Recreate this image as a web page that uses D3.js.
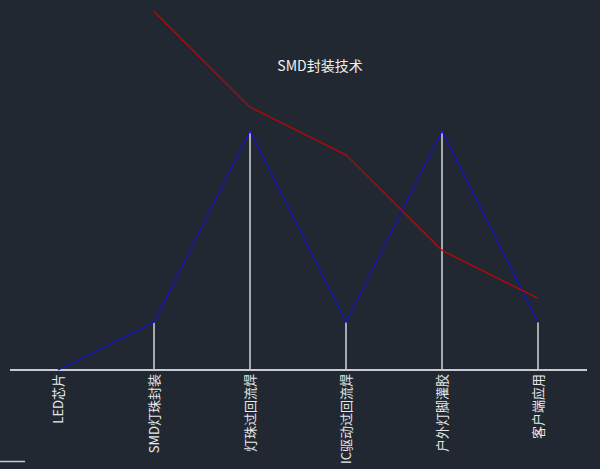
<!DOCTYPE html>
<html>
<head>
<meta charset="utf-8">
<script src="https://cdn.jsdelivr.net/npm/d3@7"></script>
<style>
  html, body { margin: 0; padding: 0; background: #222831; }
  svg { display: block; }
</style>
</head>
<body>
<svg id="chart" width="600" height="469"></svg>
<script>
var categories = ["LED芯片", "SMD灯珠封装", "灯珠过回流焊", "IC驱动过回流焊", "户外灯脚灌胶", "客户端应用"];
var blueValues = [0, 1, 5, 1, 5, 1];
var redValues = [null, 7.5, 5.5, 4.5, 2.5, 1.5];
var title = "SMD封装技术";

var width = 600, height = 469;
var svg = d3.select("#chart");

svg.append("rect")
  .attr("width", width)
  .attr("height", height)
  .attr("fill", "#222831");

var x = d3.scalePoint()
  .domain(categories)
  .range([58, 538]);

var y = d3.scaleLinear()
  .domain([0, 5])
  .range([370, 131]);

// baseline
svg.append("line")
  .attr("x1", 10).attr("x2", 587)
  .attr("y1", y(0)).attr("y2", y(0))
  .attr("stroke", "#c8cbd0")
  .attr("stroke-width", 2);

// little stub bottom-left
svg.append("line")
  .attr("x1", 0).attr("x2", 25)
  .attr("y1", 461.5).attr("y2", 461.5)
  .attr("stroke", "#c8cbd0")
  .attr("stroke-width", 1.5);

// drop lines to the blue points
svg.selectAll(".drop")
  .data(categories.map((c, i) => ({ c: c, v: blueValues[i] })).filter(d => d.v > 0))
  .join("line")
  .attr("class", "drop")
  .attr("x1", d => x(d.c)).attr("x2", d => x(d.c))
  .attr("y1", y(0)).attr("y2", d => y(d.v))
  .attr("stroke", "#c8cbd0")
  .attr("stroke-width", 1.6);

var blueLine = d3.line()
  .x((d, i) => x(categories[i]))
  .y(d => y(d));

svg.append("path")
  .attr("d", blueLine(blueValues))
  .attr("fill", "none")
  .attr("stroke", "#1010d0")
  .attr("stroke-width", 1.2);

var redLine = d3.line()
  .defined(d => d != null)
  .x((d, i) => x(categories[i]))
  .y(d => y(d));

svg.append("path")
  .attr("d", redLine(redValues))
  .attr("fill", "none")
  .attr("stroke", "#d40000")
  .attr("stroke-width", 1.1);

svg.append("text")
  .attr("x", 320)
  .attr("y", 71)
  .attr("text-anchor", "middle")
  .attr("fill", "#f0f0f0")
  .style("font-family", "'Noto Sans CJK SC', sans-serif")
  .style("font-size", "14px")
  .text(title);

// rotated category labels
svg.selectAll(".cat")
  .data(categories)
  .join("text")
  .attr("class", "cat")
  .attr("transform", d => "translate(" + (x(d) + 5) + "," + 374 + ") rotate(-90)")
  .attr("text-anchor", "end")
  .attr("fill", "#e8e8e8")
  .style("font-family", "'Noto Sans CJK SC', sans-serif")
  .style("font-size", "13px")
  .text(d => d);
</script>
</body>
</html>
